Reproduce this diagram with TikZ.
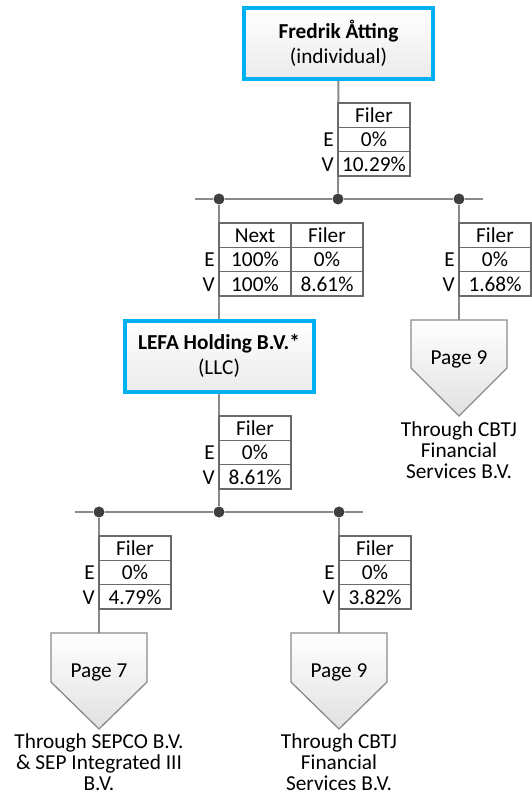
\documentclass[tikz,border=0pt]{standalone}
\usepackage{fontspec}
\setmainfont{Carlito}
\usepackage{tikz}
\usetikzlibrary{positioning}
\definecolor{lineg}{HTML}{8A8A8A}
\definecolor{cellg}{HTML}{6A6A6A}
\definecolor{dotg}{HTML}{3F3F3F}
\definecolor{boxblue}{HTML}{00B0F0}
\tikzset{%
    entity/.style={draw=boxblue,line width=4pt,top color=white,bottom color=black!8,
        minimum width=189pt,minimum height=71pt,align=center,inner sep=0pt},
    dot/.style={circle,fill=dotg,inner sep=0pt,minimum size=11pt},
    cell/.style={draw=cellg,line width=1.3pt,fill=white,minimum width=72pt,
        minimum height=24.3pt,inner sep=0pt,outer sep=0pt,text height=14.5pt,
        text depth=0pt,anchor=north west},
    lbl/.style={inner sep=0pt,text height=14.5pt,text depth=0pt}
}

\begin{document}
\begin{tikzpicture}[
            x=1pt,y=-1pt,
            font=\fontsize{21.3}{21.7}\selectfont,
            conn/.style={draw=lineg,line width=1.9pt},
            pagetag/.style={draw=lineg,line width=1.3pt,top color=white,bottom color=black!12},
            note/.style={align=center,inner sep=0pt,anchor=north,
                font=\fontsize{21.3}{21}\selectfont}
            ]
            \useasboundingbox (0,0) rectangle (531,797);
            % owners
            \node[entity] (fredrik) at (338.5,43.5) {\textbf{Fredrik Åtting}\\[3pt](individual)};
            \node[entity] (lefa) at (219,356) {\textbf{LEFA Holding B.V.*}\\[3pt](LLC)};
            % upper bus
            \coordinate (b1w) at (195,199);
            \coordinate (b1e) at (483,199);
            \node[dot] (d1) at (219,199){};
            \node[dot] (d2) at (338,199){};
            \node[dot] (d3) at (459,199){};
            % lower bus
            \coordinate (b2w) at (75,512);
            \coordinate (b2e) at (363,512);
            \node[dot] (e1) at (99,512){};
            \node[dot] (e2) at (219,512){};
            \node[dot] (e3) at (339,512){};
            % page tops
            \coordinate (p9a) at (459,320);
            \coordinate (p7) at (99,633);
            \coordinate (p9b) at (339,633);
            % connectors
            \draw[conn] (b1w) -- (d1) -- (d2) -- (d3) -- (b1e);
            \draw[conn] (b2w) -- (e1) -- (e2) -- (e3) -- (b2e);
            \draw[conn] (fredrik) -- (d2);
            \draw[conn] (d1) -- (lefa);
            \draw[conn] (d3) -- (p9a);
            \draw[conn] (lefa) -- (e2);
            \draw[conn] (e1) -- (p7);
            \draw[conn] (e3) -- (p9b);
            % table under Fredrik
            \node[cell] (t1h) at (338,103) {Filer};
            \node[cell,below=0pt of t1h] (t1e) {0\%};
            \node[cell,below=0pt of t1e] (t1v) {10.29\%};
            \node[lbl,left=4pt of t1e] (t1eL) {E};
            \node[lbl,left=4pt of t1v] (t1vL) {V};
            % table over LEFA
            \node[cell] (t2h) at (219,223) {Next};
            \node[cell,below=0pt of t2h] (t2e) {100\%};
            \node[cell,below=0pt of t2e] (t2v) {100\%};
            \node[cell,right=0pt of t2h] (t2hb) {Filer};
            \node[cell,below=0pt of t2hb] (t2eb) {0\%};
            \node[cell,below=0pt of t2eb] (t2vb) {8.61\%};
            \node[lbl,left=4pt of t2e] (t2eL) {E};
            \node[lbl,left=4pt of t2v] (t2vL) {V};
            % table right
            \node[cell] (t3h) at (459,223) {Filer};
            \node[cell,below=0pt of t3h] (t3e) {0\%};
            \node[cell,below=0pt of t3e] (t3v) {1.68\%};
            \node[lbl,left=4pt of t3e] (t3eL) {E};
            \node[lbl,left=4pt of t3v] (t3vL) {V};
            % table under LEFA
            \node[cell] (t4h) at (219,416) {Filer};
            \node[cell,below=0pt of t4h] (t4e) {0\%};
            \node[cell,below=0pt of t4e] (t4v) {8.61\%};
            \node[lbl,left=4pt of t4e] (t4eL) {E};
            \node[lbl,left=4pt of t4v] (t4vL) {V};
            % lower tables
            \node[cell] (t5h) at (99,536) {Filer};
            \node[cell,below=0pt of t5h] (t5e) {0\%};
            \node[cell,below=0pt of t5e] (t5v) {4.79\%};
            \node[lbl,left=4pt of t5e] (t5eL) {E};
            \node[lbl,left=4pt of t5v] (t5vL) {V};
            \node[cell] (t6h) at (339,536) {Filer};
            \node[cell,below=0pt of t6h] (t6e) {0\%};
            \node[cell,below=0pt of t6e] (t6v) {3.82\%};
            \node[lbl,left=4pt of t6e] (t6eL) {E};
            \node[lbl,left=4pt of t6v] (t6vL) {V};
            % page references
            \draw[pagetag] (p9a) ++(-48,0) -- ++(96,0) -- ++(0,48) -- ++(-48,48) -- ++(-48,-48) -- cycle;
            \draw[pagetag] (p7) ++(-48,0) -- ++(96,0) -- ++(0,49) -- ++(-48,47) -- ++(-48,-47) -- cycle;
            \draw[pagetag] (p9b) ++(-48,0) -- ++(96,0) -- ++(0,49) -- ++(-48,47) -- ++(-48,-47) -- cycle;
            \node[lbl] (p9aT) at (459,357) {Page 9};
            \node[lbl] (p7T) at (99,670) {Page 7};
            \node[lbl] (p9bT) at (339,670) {Page 9};
            \node[note] (p9aN) at (459,422) {Through CBTJ\\Financial\\Services B.V.};
            \node[note] (p7N) at (99,734) {Through SEPCO B.V.\\\& SEP Integrated III\\B.V.};
            \node[note] (p9bN) at (339,734) {Through CBTJ\\Financial\\Services B.V.};
        \end{tikzpicture}
\end{document}
